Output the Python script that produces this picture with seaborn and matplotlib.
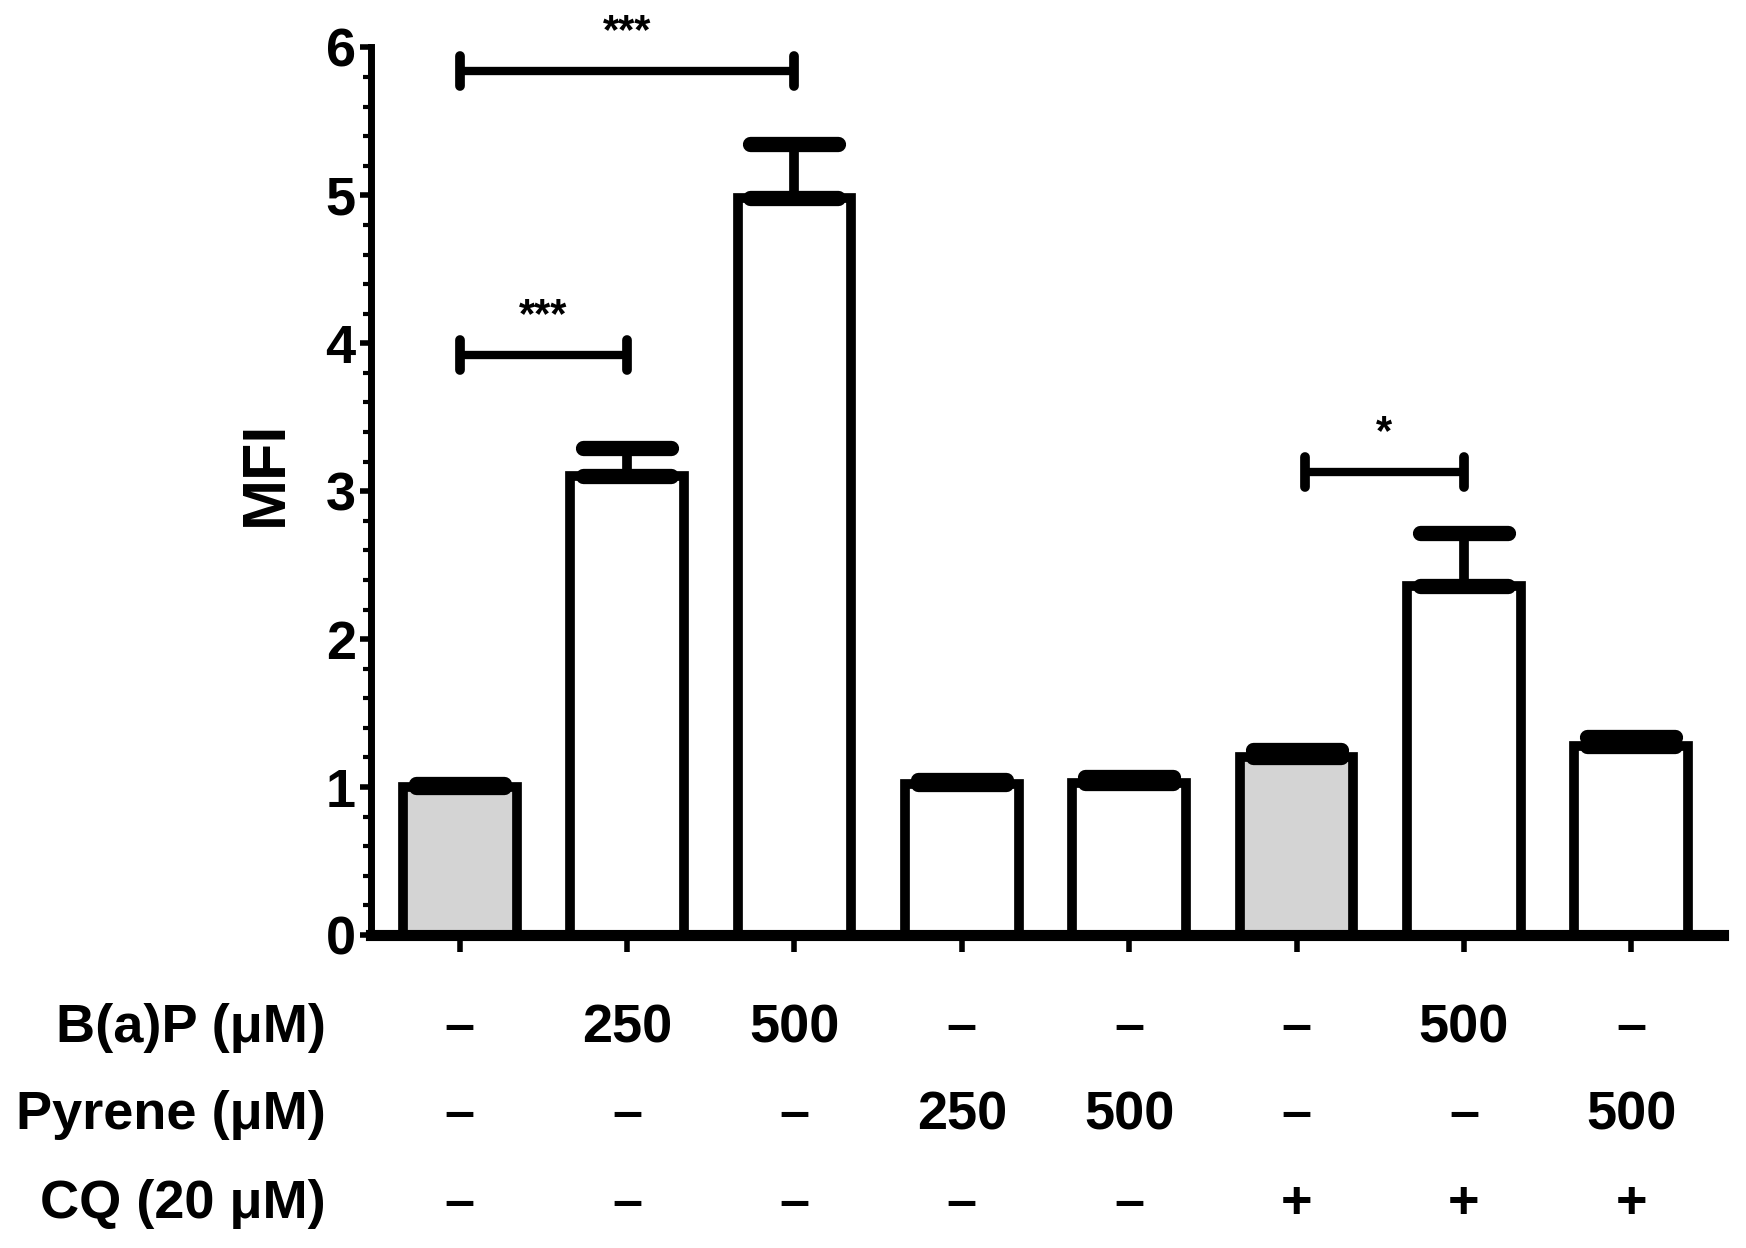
import matplotlib
matplotlib.use("Agg")
import matplotlib.pyplot as plt
import seaborn as sns
import pandas as pd
import numpy as np
from matplotlib.ticker import MultipleLocator
from matplotlib.markers import MarkerStyle

# ---- data ----
groups = ["G1", "G2", "G3", "G4", "G5", "G6", "G7", "G8"]
mfi_mean = [1.00, 3.10, 4.98, 1.02, 1.03, 1.20, 2.36, 1.28]
mfi_err = [0.02, 0.19, 0.37, 0.03, 0.04, 0.05, 0.36, 0.06]
bar_colors = ["#D4D4D4", "white", "white", "white", "white", "#D4D4D4", "white", "white"]
bap_labels = ["–", "250", "500", "–", "–", "–", "500", "–"]
pyrene_labels = ["–", "–", "–", "250", "500", "–", "–", "500"]
cq_labels = ["–", "–", "–", "–", "–", "+", "+", "+"]
row_names = ["B(a)P (μM)", "Pyrene (μM)", "CQ (20 μM)"]
# significance brackets: (x_left, x_right, y, text)
sig_brackets = [(0, 2, 5.84, "***"), (0, 1, 3.92, "***"), (5.05, 6, 3.13, "*")]

sns.set_theme(style="white")
plt.rcParams['font.family'] = ['Liberation Sans', 'DejaVu Sans']
plt.rcParams['text.color'] = 'black'
plt.rcParams['axes.labelcolor'] = 'black'
plt.rcParams['xtick.color'] = 'black'
plt.rcParams['ytick.color'] = 'black'

fig = plt.figure(figsize=(17.46, 12.48), dpi=100)
ax = fig.add_axes([0.2125, 0.2508, 0.987 - 0.2125, 0.962 - 0.2508])

df = pd.DataFrame({"group": groups, "MFI": mfi_mean})
sns.barplot(data=df, x="group", y="MFI", hue="group", palette=bar_colors,
            legend=False, width=0.68, edgecolor="black", linewidth=7,
            errorbar=None, ax=ax, zorder=2)
for p in ax.patches:
    p.set_joinstyle("miter")

xs = np.arange(len(groups))
_, caps, _ = ax.errorbar(xs, mfi_mean, yerr=[np.zeros(len(mfi_err)), mfi_err], fmt="none",
                         ecolor="black", elinewidth=7, capsize=32, capthick=11, zorder=3)
for c in caps:
    try:
        c.set_marker(MarkerStyle("_", capstyle="round"))
    except Exception:
        pass

ax.set_xlim(-0.53, 7.55)
ax.set_ylim(0, 6)
ax.yaxis.set_major_locator(MultipleLocator(1))
ax.yaxis.set_minor_locator(MultipleLocator(0.2))
for s in ["top", "right"]:
    ax.spines[s].set_visible(False)
ax.spines["left"].set_linewidth(5)
ax.spines["bottom"].set_linewidth(8)
ax.spines["left"].set_color("black")
ax.spines["bottom"].set_color("black")

ax.tick_params(axis="y", which="major", direction="out", length=8, width=4,
               labelsize=39, pad=3, left=True)
ax.tick_params(axis="y", which="minor", direction="out", length=6, width=3, left=True)
ax.tick_params(axis="x", which="major", direction="out", length=12, width=4,
               bottom=True, labelbottom=False)
for t in ax.get_yticklabels():
    t.set_fontweight("bold")
ax.set_xlabel("")
ax.set_ylabel("MFI", fontsize=44, fontweight="bold")
ax.yaxis.set_label_coords(-0.056, 0.52)

# condition table under the axis
row_y = [-0.63, -1.22, -1.82]
for ry, name, labels in zip(row_y, row_names, [bap_labels, pyrene_labels, cq_labels]):
    ax.text(-0.8, ry, name, ha="right", va="center", fontsize=39,
            fontweight="bold", clip_on=False)
    for x, lab in zip(xs, labels):
        ax.text(x, ry, lab, ha="center", va="center", fontsize=39,
                fontweight="bold", clip_on=False)

# significance brackets
for x0, x1, y, txt in sig_brackets:
    ax.plot([x0, x1], [y, y], color="black", lw=6, solid_capstyle="butt",
            clip_on=False, zorder=4)
    for xe in (x0, x1):
        ax.plot([xe, xe], [y - 0.1, y + 0.1], color="black", lw=7,
                solid_capstyle="round", clip_on=False, zorder=4)
    ax.text((x0 + x1) / 2, y + 0.13, txt, ha="center", va="bottom",
            fontsize=30, fontweight="bold", clip_on=False)

fig.savefig("out.png", dpi=100, facecolor="white")
